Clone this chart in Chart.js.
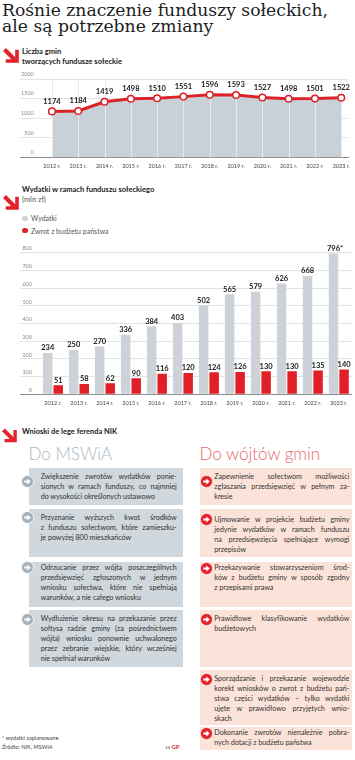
<!DOCTYPE html>
<html lang="pl"><head><meta charset="utf-8">
<script src="https://cdn.jsdelivr.net/npm/chart.js@4.4.1/dist/chart.umd.min.js"></script>
<style>
html,body{margin:0;padding:0;background:#fff;}
body{width:355px;height:760px;position:relative;overflow:hidden;font-family:Lato,"Open Sans",sans-serif;color:#222;}
.abs{position:absolute;}
.title{left:2px;top:1.5px;font-family:"DejaVu Serif",serif;font-size:17.2px;line-height:16.7px;color:#1d1d1d;white-space:nowrap;}
.hdr{font-weight:700;font-size:7.5px;line-height:10px;color:#1a1a1a;white-space:nowrap;}
.sub{font-weight:400;color:#555;}
.leg{font-size:7px;line-height:10px;color:#555;white-space:nowrap;}
.dot{position:absolute;width:5.4px;height:5.4px;border-radius:50%;}
.big{font-weight:300;font-size:17px;line-height:17px;white-space:nowrap;}
.box{position:absolute;}
.bl{left:29.3px;width:153.7px;background:#d0d7dd;}
.br{left:200px;width:151.7px;background:#fce3d9;}
.txt{position:absolute;font-size:7.2px;letter-spacing:-0.05px;line-height:10px;color:#333;}
.tl{left:40.7px;width:136px;}
.tr{left:214.3px;width:135px;}
.txt div{white-space:nowrap;height:10px;}
.txt div.j{text-align:justify;text-align-last:justify;}
.ic{position:absolute;width:13px;height:13px;}
.foot{font-size:5.6px;line-height:9px;color:#444;white-space:nowrap;}
</style></head>
<body>
<div class="abs title">Rośnie znaczenie funduszy sołeckich,<br>ale są potrzebne zmiany</div>

<svg class="abs" style="left:3px;top:48px" width="16" height="15" viewBox="0 0 16 15"><path d="M1.5 1.5 L12 12" stroke="#e2232a" stroke-width="4.2" fill="none"/><path d="M14 3.5 V13 H4.5" stroke="#e2232a" stroke-width="3.6" fill="none" stroke-linecap="square"/></svg>
<div class="abs hdr" style="left:22px;top:46.7px">Liczba gmin<br>tworzących fundusze sołeckie</div>

<canvas id="c1" class="abs" style="left:0;top:66px" width="355" height="106"></canvas>

<svg class="abs" style="left:3px;top:195px" width="16" height="15" viewBox="0 0 16 15"><path d="M1.5 1.5 L12 12" stroke="#e2232a" stroke-width="4.2" fill="none"/><path d="M14 3.5 V13 H4.5" stroke="#e2232a" stroke-width="3.6" fill="none" stroke-linecap="square"/></svg>
<div class="abs hdr" style="left:22px;top:185px">Wydatki w ramach funduszu sołeckiego<br><span class="sub">(mln zł)</span></div>

<div class="dot" style="left:22.3px;top:215.6px;background:#ccd2d7"></div>
<div class="abs leg" style="left:31px;top:213.3px">Wydatki</div>
<div class="dot" style="left:22.3px;top:228px;background:#e01f26"></div>
<div class="abs leg" style="left:31px;top:225.7px">Zwrot z budżetu państwa</div>

<canvas id="c2" class="abs" style="left:0;top:238px" width="355" height="172"></canvas>

<svg class="abs" style="left:2px;top:428px" width="15" height="15" viewBox="0 0 16 15"><path d="M1.5 1.5 L12 12" stroke="#e2232a" stroke-width="4.2" fill="none"/><path d="M14 3.5 V13 H4.5" stroke="#e2232a" stroke-width="3.6" fill="none" stroke-linecap="square"/></svg>
<div class="abs hdr" style="left:22px;top:427.3px">Wnioski de lege ferenda NIK</div>

<div class="abs big" style="left:28.5px;top:444.5px;color:#aeb8bf">Do MSWiA</div>
<div class="abs big" style="left:199.5px;top:444.5px;color:#e8666b">Do wójtów gmin</div>

<!-- left column -->
<div class="box bl" style="top:468px;height:37px"></div>
<div class="box bl" style="top:509.3px;height:47.4px"></div>
<div class="box bl" style="top:561.7px;height:45px"></div>
<div class="box bl" style="top:610px;height:56.7px"></div>

<div class="txt tl" style="top:472px"><div class="j">Zwiększenie zwrotów wydatków ponie-</div><div class="j">sionych w ramach funduszy, co najmniej</div><div>do wysokości określonych ustawowo</div></div>
<div class="txt tl" style="top:513.3px"><div class="j">Przyznanie wyższych kwot środków</div><div class="j">z funduszu sołectwom, które zamieszku-</div><div>je powyżej 800 mieszkańców</div></div>
<div class="txt tl" style="top:563.3px"><div class="j">Odrzucanie przez wójta poszczególnych</div><div class="j">przedsięwzięć zgłoszonych w jednym</div><div class="j">wniosku sołectwa, które nie spełniają</div><div>warunków, a nie całego wniosku</div></div>
<div class="txt tl" style="top:614px"><div class="j">Wydłużenie okresu na przekazanie przez</div><div class="j">sołtysa radzie gminy (za pośrednictwem</div><div class="j">wójta) wniosku ponownie uchwalonego</div><div class="j">przez zebranie wiejskie, który wcześniej</div><div>nie spełniał warunków</div></div>

<!-- right column -->
<div class="box br" style="top:468px;height:37px"></div>
<div class="box br" style="top:509.3px;height:47.4px"></div>
<div class="box br" style="top:561.7px;height:45px"></div>
<div class="box br" style="top:610px;height:56.7px"></div>
<div class="box br" style="top:670px;height:55px"></div>
<div class="box br" style="top:727px;height:23px"></div>

<div class="txt tr" style="top:472.3px"><div class="j">Zapewnienie sołectwom możliwości</div><div class="j">zgłaszania przedsięwzięć w pełnym za-</div><div>kresie</div></div>
<div class="txt tr" style="top:515px"><div class="j">Ujmowanie w projekcie budżetu gminy</div><div class="j">jedynie wydatków w ramach funduszu</div><div class="j">na przedsięwzięcia spełniające wymogi</div><div>przepisów</div></div>
<div class="txt tr" style="top:563.3px"><div class="j">Przekazywanie stowarzyszeniom środ-</div><div class="j">ków z budżetu gminy w sposób zgodny</div><div>z przepisami prawa</div></div>
<div class="txt tr" style="top:614px"><div class="j">Prawidłowe klasyfikowanie wydatków</div><div>budżetowych</div></div>
<div class="txt tr" style="top:674px"><div class="j">Sporządzanie i przekazanie wojewodzie</div><div class="j">korekt wniosków o zwrot z budżetu pań-</div><div class="j">stwa części wydatków – tylko wydatki</div><div class="j">ujęte w prawidłowo przyjętych wnio-</div><div>skach</div></div>
<div class="txt tr" style="top:728px"><div class="j">Dokonanie zwrotów nienależnie pobra-</div><div>nych dotacji z budżetu państwa</div></div>

<!-- icons -->
<svg class="ic" style="left:20.5px;top:474.5px" viewBox="0 0 13 13"><circle cx="6.5" cy="6.5" r="6" fill="#a6b1ba" stroke="#fff" stroke-width="0.8"/><path d="M3.3 5.5 H6.3 V3.4 L9.8 6.5 L6.3 9.6 V7.5 H3.3 Z" fill="#fff"/></svg>
<svg class="ic" style="left:20.5px;top:511px" viewBox="0 0 13 13"><circle cx="6.5" cy="6.5" r="6" fill="#a6b1ba" stroke="#fff" stroke-width="0.8"/><path d="M3.3 5.5 H6.3 V3.4 L9.8 6.5 L6.3 9.6 V7.5 H3.3 Z" fill="#fff"/></svg>
<svg class="ic" style="left:20.5px;top:561px" viewBox="0 0 13 13"><circle cx="6.5" cy="6.5" r="6" fill="#a6b1ba" stroke="#fff" stroke-width="0.8"/><path d="M3.3 5.5 H6.3 V3.4 L9.8 6.5 L6.3 9.6 V7.5 H3.3 Z" fill="#fff"/></svg>
<svg class="ic" style="left:20.5px;top:612.5px" viewBox="0 0 13 13"><circle cx="6.5" cy="6.5" r="6" fill="#a6b1ba" stroke="#fff" stroke-width="0.8"/><path d="M3.3 5.5 H6.3 V3.4 L9.8 6.5 L6.3 9.6 V7.5 H3.3 Z" fill="#fff"/></svg>

<svg class="ic" style="left:200px;top:474.5px" viewBox="0 0 13 13"><circle cx="6.5" cy="6.5" r="6" fill="#e2252c" stroke="#fff" stroke-width="0.6"/><path d="M3.3 5.5 H6.3 V3.4 L9.8 6.5 L6.3 9.6 V7.5 H3.3 Z" fill="#fff"/></svg>
<svg class="ic" style="left:200px;top:513px" viewBox="0 0 13 13"><circle cx="6.5" cy="6.5" r="6" fill="#e2252c" stroke="#fff" stroke-width="0.6"/><path d="M3.3 5.5 H6.3 V3.4 L9.8 6.5 L6.3 9.6 V7.5 H3.3 Z" fill="#fff"/></svg>
<svg class="ic" style="left:200px;top:562px" viewBox="0 0 13 13"><circle cx="6.5" cy="6.5" r="6" fill="#e2252c" stroke="#fff" stroke-width="0.6"/><path d="M3.3 5.5 H6.3 V3.4 L9.8 6.5 L6.3 9.6 V7.5 H3.3 Z" fill="#fff"/></svg>
<svg class="ic" style="left:200px;top:612.5px" viewBox="0 0 13 13"><circle cx="6.5" cy="6.5" r="6" fill="#e2252c" stroke="#fff" stroke-width="0.6"/><path d="M3.3 5.5 H6.3 V3.4 L9.8 6.5 L6.3 9.6 V7.5 H3.3 Z" fill="#fff"/></svg>
<svg class="ic" style="left:200px;top:672.5px" viewBox="0 0 13 13"><circle cx="6.5" cy="6.5" r="6" fill="#e2252c" stroke="#fff" stroke-width="0.6"/><path d="M3.3 5.5 H6.3 V3.4 L9.8 6.5 L6.3 9.6 V7.5 H3.3 Z" fill="#fff"/></svg>
<svg class="ic" style="left:200px;top:727px" viewBox="0 0 13 13"><circle cx="6.5" cy="6.5" r="6" fill="#e2252c" stroke="#fff" stroke-width="0.6"/><path d="M3.3 5.5 H6.3 V3.4 L9.8 6.5 L6.3 9.6 V7.5 H3.3 Z" fill="#fff"/></svg>

<div class="abs foot" style="left:2px;top:733px">* wydatki zaplanowane<br>Źródło: NIK, MSWiA</div>
<div class="abs foot" style="left:165px;top:742px;font-size:4.5px">14 <span style="color:#e2232a;font-weight:700;font-size:6px">GP</span></div>

<script>
// ---- data ----
const years = [2012, 2013, 2014, 2015, 2016, 2017, 2018, 2019, 2020, 2021, 2022, 2023];
const yearLabels = years.map(y => y + ' r.');
const gminy = [1174, 1184, 1419, 1498, 1510, 1551, 1596, 1593, 1527, 1498, 1501, 1522];
const gminyTicks = [0, 500, 1000, 1500, 2000];
const wydatki = [234, 250, 270, 336, 384, 403, 502, 565, 579, 626, 668, 796];
const wydatkiNotes = ['', '', '', '', '', '', '', '', '', '', '', '*'];
const zwrot = [51, 58, 62, 90, 116, 120, 124, 126, 130, 130, 135, 140];
const wydatkiTicks = [0, 100, 200, 300, 400, 500, 600, 700, 800];

const RED = '#dc2229';
const BAR_RED = '#e01f26';
const BAR_GRAY = '#ccd2d7';
const AREA = '#c9d1d8';
const GRID = '#e3e3e3';

Chart.defaults.font.family = 'Lato';

function labelPlugin(sets) {
  return {
    id: 'valueLabels',
    afterDatasetsDraw(chart) {
      const ctx = chart.ctx;
      ctx.save();
      ctx.font = 'bold 7.5px Lato';
      ctx.fillStyle = '#1a1a1a';
      ctx.textAlign = 'center';
      ctx.textBaseline = 'middle';
      sets.forEach(s => {
        const meta = chart.getDatasetMeta(s.index);
        meta.data.forEach((el, i) => {
          const t = s.texts[i];
          const dx = t.endsWith('*') ? 1.5 : 0;
          ctx.fillText(t, el.x + dx, el.y - s.dy);
        });
      });
      ctx.restore();
    }
  };
}

const vGrid = {
  id: 'vGrid',
  afterDatasetDraw(chart, args) {
    if (args.index !== 1) return;
    const { ctx, chartArea, scales } = chart;
    ctx.save();
    ctx.strokeStyle = '#e6e9ec';
    ctx.lineWidth = 1;
    years.forEach(yr => {
      const px = Math.round(scales.x.getPixelForValue(yr)) + 0.5;
      ctx.beginPath();
      ctx.moveTo(px, chartArea.top);
      ctx.lineTo(px, chartArea.bottom);
      ctx.stroke();
    });
    ctx.restore();
  }
};

const pts = years.map((y, i) => ({ x: y, y: gminy[i] }));

new Chart(document.getElementById('c1'), {
  type: 'line',
  data: {
    datasets: [
      { data: pts, borderColor: RED, borderWidth: 3, tension: 0, fill: false,
        pointRadius: 3.3, pointBorderWidth: 1.5, pointBackgroundColor: '#fff', pointBorderColor: RED },
      { data: pts, borderWidth: 0, pointRadius: 0, fill: 'origin', backgroundColor: AREA, borderColor: 'rgba(0,0,0,0)' }
    ]
  },
  options: {
    responsive: false, animation: false, devicePixelRatio: 1,
    layout: { padding: { top: 13, left: 20, right: 3, bottom: 0 } },
    plugins: { legend: { display: false }, tooltip: { enabled: false } },
    scales: {
      x: {
        type: 'linear', min: 2010.786, max: 2023.263,
        afterBuildTicks: s => { s.ticks = years.map(v => ({ value: v })); },
        afterFit: s => { s.height = 14.5; },
        grid: { display: false, drawTicks: false },
        border: { display: true, color: '#8c8c8c', width: 1 },
        ticks: { padding: 5, autoSkip: false, maxRotation: 0, font: { size: 5.5 }, color: '#444',
          callback: (v, i) => yearLabels[i] }
      },
      y: {
        min: 0, max: 2000,
        afterBuildTicks: s => { s.ticks = gminyTicks.map(v => ({ value: v })); },
        afterFit: s => { s.width = 0; },
        grid: { color: GRID, drawTicks: false },
        border: { display: false },
        ticks: { mirror: true, crossAlign: 'far', padding: 1, labelOffset: -5, font: { size: 5.5 }, color: '#8a8a8a',
          callback: v => String(v) }
      }
    }
  },
  plugins: [vGrid, labelPlugin([{ index: 0, dy: 10, texts: gminy.map(String) }])]
});

new Chart(document.getElementById('c2'), {
  type: 'bar',
  data: {
    labels: yearLabels,
    datasets: [
      { label: 'Wydatki', data: wydatki, backgroundColor: BAR_GRAY, barPercentage: 0.9, categoryPercentage: 0.81 },
      { label: 'Zwrot z budżetu państwa', data: zwrot, backgroundColor: BAR_RED, barPercentage: 0.9, categoryPercentage: 0.81 }
    ]
  },
  options: {
    responsive: false, animation: false, devicePixelRatio: 1,
    layout: { padding: { top: 14.7, left: 20, right: 3.2, bottom: 0 } },
    plugins: { legend: { display: false }, tooltip: { enabled: false } },
    scales: {
      x: {
        afterFit: s => { s.height = 15.7; },
        grid: { display: false, drawTicks: false },
        border: { display: true, color: '#8c8c8c', width: 1 },
        ticks: { padding: 6, autoSkip: false, maxRotation: 0, font: { size: 5.5 }, color: '#444' }
      },
      y: {
        min: 0, max: 800,
        afterBuildTicks: s => { s.ticks = wydatkiTicks.map(v => ({ value: v })); },
        afterFit: s => { s.width = 20; },
        grid: { color: c => (c.tick && c.tick.value === 0 ? '#8c8c8c' : GRID), drawTicks: true, tickLength: 20 },
        border: { display: false },
        ticks: { padding: -12, labelOffset: -4, font: { size: 5.5 }, color: '#8a8a8a', callback: v => String(v) }
      }
    }
  },
  plugins: [labelPlugin([
    { index: 0, dy: 5, texts: wydatki.map((v, i) => v + wydatkiNotes[i]) },
    { index: 1, dy: 5, texts: zwrot.map(String) }
  ])]
});
</script>
</body></html>
